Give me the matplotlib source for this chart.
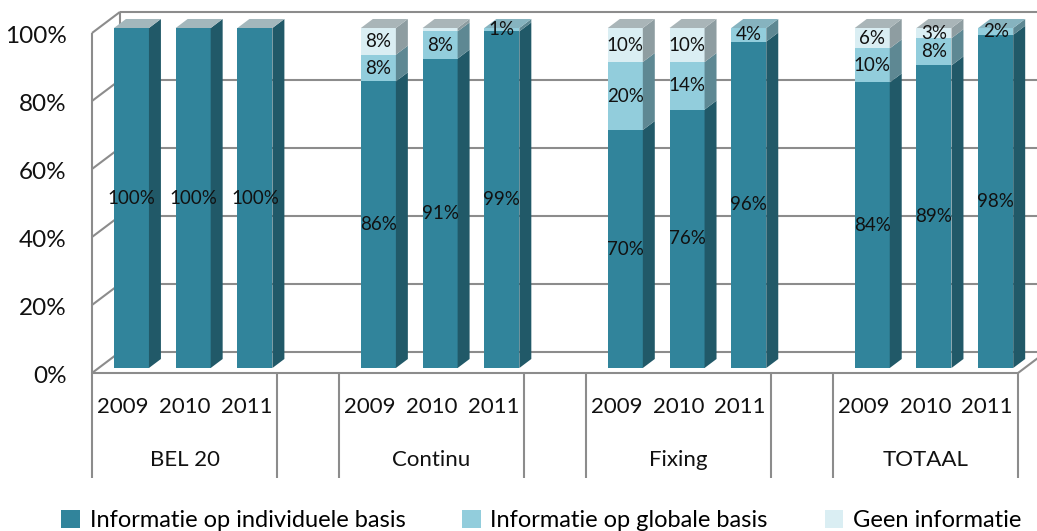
import numpy as np
import matplotlib.pyplot as plt
from matplotlib.patches import Polygon, Patch

plt.rcParams['font.family'] = ['Lato', 'DejaVu Sans']

# categories: four groups of three years, one blank slot between groups
groups = ['BEL 20', 'Continu', 'Fixing', 'TOTAAL']
years = ['2009', '2010', '2011']
series_names = ['Informatie op individuele basis', 'Informatie op globale basis', 'Geen informatie']

individueel = [100, 100, 100, 86, 91, 99, 70, 76, 96, 84, 89, 98]
globaal = [0, 0, 0, 8, 8, 1, 20, 14, 4, 10, 8, 2]
geen = [0, 0, 0, 8, 1, 0, 10, 10, 0, 6, 3, 0]
# segments whose data label is not printed
hidden_labels = {(2, 4)}

front_cols = ['#31849B', '#92CDDC', '#DAEEF3']
side_cols = ['#215968', '#5E8893', '#8E9DA1']
top_cols = ['#A3B7BC', '#86B3BF', '#A9B5B8']
grid_col = '#8C8C8C'

# depth of the box and of the bars, in data units (x: categories, y: percent)
DX, DY = 0.4536, 6.2
BX, BY = 0.194, 2.65
OX, OY = 0.139, 1.47
BW = 0.567

fig = plt.figure(figsize=(10.37, 5.31), dpi=100)
ax = fig.add_axes([92 / 1037, 1 - 373 / 531, 926 / 1037, 340 / 531])
ax.set_xlim(-0.5, 14.5)
ax.set_ylim(0, 100)
ax.axis('off')

lkw = dict(color=grid_col, lw=1.5, clip_on=False, zorder=1, solid_capstyle='butt')
x0, x1 = -0.5, 14.5
right_edge = x1 + DX + 0.5
for v in range(0, 101, 20):
    ax.plot([x0 + DX, right_edge], [v + DY, v + DY], **lkw)
    ax.plot([x0, x0 + DX], [v, v + DY], **lkw)
ax.plot([x0, x0], [0, 100], **lkw)
ax.plot([x0 + DX, x0 + DX], [DY, 100 + DY], **lkw)
ax.plot([x0, x1], [0, 0], **lkw)
ax.plot([x1, x1 + DX], [0, DY], **lkw)

# bar positions: skip every fourth slot
positions = []
for g in range(len(groups)):
    for k in range(len(years)):
        positions.append(g * 4 + k)
positions = np.array(positions)

series = [np.array(individueel, float), np.array(globaal, float), np.array(geen, float)]
totals = series[0] + series[1] + series[2]
shares = [s / totals * 100 for s in series]

bottom = np.zeros(len(positions))
for i, sh in enumerate(shares):
    xl = positions + OX - BW / 2
    xr = xl + BW
    ax.bar(positions + OX, sh, width=BW, bottom=bottom + OY, color=front_cols[i],
           clip_on=False, zorder=3, linewidth=0)
    for j in range(len(positions)):
        if sh[j] <= 0:
            continue
        y0 = bottom[j] + OY
        y1 = y0 + sh[j]
        side = Polygon([(xr[j], y0), (xr[j] + BX, y0 + BY), (xr[j] + BX, y1 + BY), (xr[j], y1)],
                       closed=True, facecolor=side_cols[i], edgecolor='none',
                       clip_on=False, zorder=3)
        ax.add_patch(side)
        if (i, j) in hidden_labels:
            continue
        ax.text(positions[j] + OX, (y0 + y1) / 2, '{:.0f}%'.format(series[i][j]),
                ha='center', va='center', fontsize=13.5, color='#111111', zorder=5)
    bottom = bottom + sh

# top faces, coloured after the highest visible segment
for j in range(len(positions)):
    top_i = max(i for i in range(3) if shares[i][j] > 0)
    xl = positions[j] + OX - BW / 2
    xr = xl + BW
    yt = bottom[j] + OY
    top = Polygon([(xl, yt), (xr, yt), (xr + BX, yt + BY), (xl + BX, yt + BY)],
                  closed=True, facecolor=top_cols[top_i], edgecolor='none',
                  clip_on=False, zorder=4)
    ax.add_patch(top)

# value axis labels
for v in range(0, 101, 20):
    ax.text(x0 - 0.41, v - 1.0, '{}%'.format(v), ha='right', va='center',
            fontsize=17.5, color='#111111')

# two-level category axis
for b in [-0.5, 2.5, 3.5, 6.5, 7.5, 10.5, 11.5, 14.5]:
    ax.plot([b, b], [0, -30.9], **lkw)
for g, name in enumerate(groups):
    for k, yr in enumerate(years):
        ax.text(g * 4 + k, -10.0, yr, ha='center', va='center', fontsize=16, color='#111111')
    ax.text(g * 4 + 1, -25.6, name, ha='center', va='center', fontsize=16, color='#111111')

handles = [Patch(facecolor=c, edgecolor='none') for c in front_cols]
fig.legend(handles, series_names, loc='center', bbox_to_anchor=(0.522, 0.02), ncol=3,
           frameon=False, fontsize=17, handlelength=0.8, handleheight=0.8,
           handletextpad=0.4, columnspacing=2.4)

fig.savefig('out.png', dpi=100)
